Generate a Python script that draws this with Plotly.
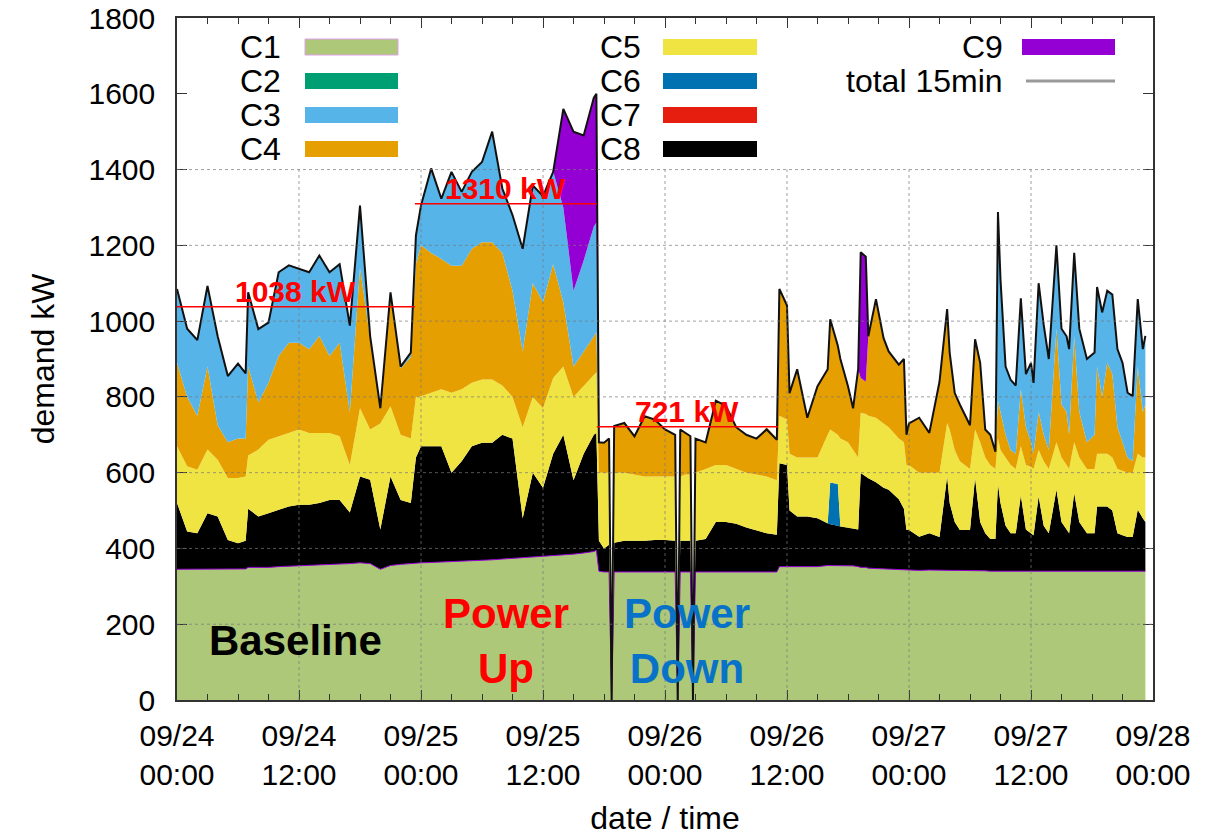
import plotly.graph_objects as go
import pandas as pd

FONT = "Liberation Sans, Arial, Helvetica, sans-serif"

# ---------------- data ----------------
times = [
    "2019-09-24 00:00", "2019-09-24 01:00", "2019-09-24 02:00", "2019-09-24 03:00", "2019-09-24 04:00",
    "2019-09-24 05:00", "2019-09-24 06:00", "2019-09-24 06:45", "2019-09-24 07:00", "2019-09-24 08:00",
    "2019-09-24 09:00", "2019-09-24 10:00", "2019-09-24 11:00", "2019-09-24 12:00", "2019-09-24 13:00",
    "2019-09-24 14:00", "2019-09-24 15:00", "2019-09-24 16:00", "2019-09-24 17:00", "2019-09-24 18:00",
    "2019-09-24 19:00", "2019-09-24 20:00", "2019-09-24 21:00", "2019-09-24 22:00", "2019-09-24 23:00",
    "2019-09-24 23:30", "2019-09-25 00:00", "2019-09-25 01:00", "2019-09-25 02:00", "2019-09-25 03:00",
    "2019-09-25 04:00", "2019-09-25 05:00", "2019-09-25 06:00", "2019-09-25 07:00", "2019-09-25 08:00",
    "2019-09-25 09:00", "2019-09-25 10:00", "2019-09-25 11:00", "2019-09-25 12:00", "2019-09-25 13:00",
    "2019-09-25 14:00", "2019-09-25 15:00", "2019-09-25 16:00", "2019-09-25 17:00", "2019-09-25 17:15",
    "2019-09-25 17:30", "2019-09-25 18:00", "2019-09-25 18:30", "2019-09-25 18:45", "2019-09-25 19:00",
    "2019-09-25 20:00", "2019-09-25 21:00", "2019-09-25 22:00", "2019-09-25 23:00", "2019-09-26 00:00",
    "2019-09-26 01:00", "2019-09-26 01:15", "2019-09-26 01:30", "2019-09-26 02:00", "2019-09-26 02:30",
    "2019-09-26 02:45", "2019-09-26 03:00", "2019-09-26 04:00", "2019-09-26 05:00", "2019-09-26 06:00",
    "2019-09-26 07:00", "2019-09-26 08:00", "2019-09-26 09:00", "2019-09-26 10:00", "2019-09-26 11:00",
    "2019-09-26 11:15", "2019-09-26 12:00", "2019-09-26 12:15", "2019-09-26 13:00", "2019-09-26 14:00",
    "2019-09-26 15:00", "2019-09-26 16:00", "2019-09-26 16:15", "2019-09-26 17:00", "2019-09-26 17:15",
    "2019-09-26 18:00", "2019-09-26 18:30", "2019-09-26 19:00", "2019-09-26 19:15", "2019-09-26 19:45",
    "2019-09-26 20:00", "2019-09-26 20:45", "2019-09-26 21:30", "2019-09-26 22:00", "2019-09-26 23:00",
    "2019-09-26 23:30", "2019-09-26 23:45", "2019-09-27 00:00", "2019-09-27 01:00", "2019-09-27 02:00",
    "2019-09-27 03:00", "2019-09-27 03:45", "2019-09-27 04:00", "2019-09-27 04:30", "2019-09-27 05:00",
    "2019-09-27 06:00", "2019-09-27 06:30", "2019-09-27 07:00", "2019-09-27 07:30", "2019-09-27 08:00",
    "2019-09-27 08:30", "2019-09-27 08:45", "2019-09-27 09:00", "2019-09-27 09:30", "2019-09-27 10:00",
    "2019-09-27 10:30", "2019-09-27 11:00", "2019-09-27 11:30", "2019-09-27 12:00", "2019-09-27 12:15",
    "2019-09-27 12:45", "2019-09-27 13:15", "2019-09-27 13:45", "2019-09-27 14:30", "2019-09-27 15:00",
    "2019-09-27 15:30", "2019-09-27 15:45", "2019-09-27 16:15", "2019-09-27 16:45", "2019-09-27 17:30",
    "2019-09-27 18:15", "2019-09-27 18:30", "2019-09-27 19:00", "2019-09-27 19:30", "2019-09-27 20:00",
    "2019-09-27 20:30", "2019-09-27 21:00", "2019-09-27 21:30", "2019-09-27 22:00", "2019-09-27 22:30",
    "2019-09-27 23:00", "2019-09-27 23:15",
]

c1 = [345, 345, 345, 347, 347, 345, 345, 346, 350, 350,
      350, 352, 353, 354, 355, 356, 357, 358, 360, 362,
      360, 345, 355, 358, 360, 362, 362, 363, 364, 365,
      366, 367, 368, 370, 372, 374, 375, 377, 378, 380,
      383, 385, 388, 392, 395, 340, 338, 338, 0, 338,
      338, 338, 338, 338, 338, 338, 0, 338, 338, 338,
      0, 338, 338, 338, 338, 338, 338, 338, 338, 338,
      352, 352, 352, 352, 352, 352, 355, 355, 356, 356,
      355, 354, 352, 350, 350, 348, 347, 346, 345, 344,
      343, 342, 342, 342, 343, 342, 342, 342, 342, 342,
      342, 342, 342, 341, 340, 340, 340, 340, 340, 340,
      340, 340, 340, 340, 340, 340, 340, 340, 340, 340,
      340, 340, 340, 340, 340, 340, 340, 340, 340, 340,
      340, 340, 340, 340, 340, 340, 340]

c8 = [175, 100, 95, 146, 137, 77, 69, 74, 155, 134,
      143, 150, 158, 161, 160, 164, 171, 170, 135, 228,
      221, 105, 235, 170, 160, 278, 308, 307, 306, 235,
      264, 303, 311, 309, 328, 316, 105, 223, 182, 270,
      317, 195, 262, 308, 310, 80, 62, 72, 0, 77,
      82, 82, 82, 84, 84, 82, 0, 82, 82, 82,
      0, 82, 87, 132, 132, 127, 117, 110, 102, 98,
      273, 268, 148, 132, 132, 128, 111, 109, 104, 102,
      100, 98, 98, 249, 240, 237, 228, 214, 210, 186,
      162, 107, 107, 89, 97, 88, 248, 178, 128, 107,
      107, 244, 128, 99, 85, 85, 230, 180, 120, 100,
      100, 200, 110, 100, 95, 197, 120, 100, 215, 130,
      110, 100, 206, 130, 100, 100, 171, 171, 171, 160,
      100, 95, 90, 90, 162, 140, 130]

c6 = [0, 0, 0, 0, 0, 0, 0, 0, 0, 0,
      0, 0, 0, 0, 0, 0, 0, 0, 0, 0,
      0, 0, 0, 0, 0, 0, 0, 0, 0, 0,
      0, 0, 0, 0, 0, 0, 0, 0, 0, 0,
      0, 0, 0, 0, 0, 0, 0, 0, 0, 0,
      0, 0, 0, 0, 0, 0, 0, 0, 0, 0,
      0, 0, 0, 0, 0, 0, 0, 0, 0, 0,
      0, 0, 0, 0, 0, 0, 0, 110, 110, 0,
      0, 0, 0, 0, 0, 0, 0, 0, 0, 0,
      0, 0, 0, 0, 0, 0, 0, 0, 0, 0,
      0, 0, 0, 0, 0, 0, 0, 0, 0, 0,
      0, 0, 0, 0, 0, 0, 0, 0, 0, 0,
      0, 0, 0, 0, 0, 0, 0, 0, 0, 0,
      0, 0, 0, 0, 0, 0, 0]

c5 = [150, 172, 168, 168, 150, 164, 172, 170, 140, 177,
      194, 194, 194, 199, 190, 185, 177, 168, 125, 180,
      133, 280, 185, 172, 170, 160, 132, 141, 150, 211,
      190, 167, 167, 167, 130, 110, 240, 200, 210, 200,
      180, 220, 180, 160, 160, 180, 200, 190, 0, 185,
      180, 175, 170, 168, 168, 170, 0, 170, 175, 175,
      0, 180, 185, 150, 150, 145, 145, 147, 150, 144,
      125, 120, 150, 156, 156, 160, 234, 140, 130, 232,
      225, 208, 190, 159, 165, 165, 170, 170, 165, 160,
      175, 171, 171, 169, 160, 170, 141, 194, 190, 181,
      161, 128, 210, 200, 195, 185, 120, 140, 180, 180,
      170, 130, 170, 175, 175, 123, 170, 170, 125, 170,
      170, 170, 134, 170, 170, 170, 139, 139, 139, 140,
      170, 170, 170, 170, 148, 160, 170]

c4 = [220, 183, 142, 219, 91, 94, 104, 100, 235, 124,
      150, 212, 238, 229, 221, 256, 203, 247, 140, 370,
      241, 36, 295, 175, 215, 350, 398, 369, 344, 335,
      326, 354, 362, 362, 350, 280, 200, 300, 280, 300,
      170, 80, 90, 100, 105, 80, 80, 90, 0, 120,
      130, 105, 160, 150, 125, 110, 0, 120, 110, 101,
      0, 90, 70, 170, 156, 110, 100, 95, 130, 110,
      335, 300, 160, 230, 105, 188, 173, 291, 235, 210,
      148, 110, 233, 92, 85, 210, 313, 225, 200, 195,
      220, 80, 110, 145, 105, 240, 301, 203, 150, 150,
      115, 238, 210, 74, 80, 45, 100, 100, 60, 40,
      40, 150, 100, 65, 40, 100, 70, 50, 300, 140,
      140, 90, 280, 120, 70, 90, 230, 150, 240, 220,
      110, 75, 40, 30, 230, 120, 140]

c3 = [195, 180, 205, 215, 235, 178, 200, 175, 195, 195,
      163, 222, 205, 197, 204, 214, 222, 212, 230, 170,
      10, 6, 6, 7, 13, 76, 105, 223, 161, 249,
      194, 204, 212, 292, 170, 200, 270, 255, 280, 245,
      250, 200, 240, 290, 290, 0, 0, 0, 0, 0,
      0, 0, 0, 0, 0, 0, 0, 0, 0, 0,
      0, 0, 0, 0, 0, 0, 0, 0, 0, 0,
      0, 0, 0, 0, 0, 0, 0, 0, 0, 0,
      0, 0, 0, 0, 0, 0, 0, 0, 0, 0,
      0, 0, 0, 0, 0, 0, 0, 0, 0, 0,
      0, 0, 0, 0, 0, 0, 490, 345, 180, 185,
      180, 240, 140, 210, 187, 340, 290, 240, 220, 200,
      200, 226, 220, 220, 220, 217, 210, 223, 190, 210,
      206, 210, 171, 172, 178, 166, 181]

c9 = [0, 0, 0, 0, 0, 0, 0, 0, 0, 0,
      0, 0, 0, 0, 0, 0, 0, 0, 0, 0,
      0, 0, 0, 0, 0, 0, 0, 0, 0, 0,
      0, 0, 0, 0, 0, 0, 0, 0, 0, 0,
      260, 420, 330, 340, 340, 0, 0, 0, 0, 0,
      0, 0, 0, 0, 0, 0, 0, 0, 0, 0,
      0, 0, 0, 0, 0, 0, 0, 0, 0, 0,
      0, 0, 0, 0, 0, 0, 0, 0, 0, 0,
      0, 0, 0, 332, 330, 0, 0, 0, 0, 0,
      0, 0, 0, 0, 0, 0, 0, 0, 0, 0,
      0, 0, 0, 0, 0, 0, 0, 0, 0, 0,
      0, 0, 0, 0, 0, 0, 0, 0, 0, 0,
      0, 0, 0, 0, 0, 0, 0, 0, 0, 0,
      0, 0, 0, 0, 0, 0, 0]

total_15min = [1085, 980, 950, 1093, 960, 855, 888, 862, 1076, 979,
               996, 1129, 1147, 1138, 1129, 1173, 1129, 1150, 988, 1305,
               960, 770, 1076, 880, 917, 1226, 1305, 1403, 1323, 1394,
               1341, 1394, 1420, 1500, 1350, 1280, 1191, 1358, 1330, 1394,
               1560, 1500, 1490, 1590, 1600, 680, 679, 690, 0, 723,
               731, 696, 749, 740, 714, 700, 0, 714, 705, 696,
               0, 690, 680, 790, 776, 720, 700, 690, 714, 687,
               1085, 1041, 810, 873, 745, 828, 873, 1005, 935, 900,
               828, 770, 873, 1182, 1170, 960, 1058, 955, 920, 885,
               900, 700, 730, 745, 705, 840, 1032, 917, 810, 780,
               725, 952, 890, 714, 700, 655, 1288, 1110, 880, 845,
               830, 1060, 860, 890, 837, 1100, 990, 900, 1200, 980,
               960, 926, 1180, 980, 900, 917, 1090, 1023, 1080, 1070,
               926, 890, 811, 802, 1058, 926, 961]

period_start = ["2019-09-24 00:00", "2019-09-24 23:24", "2019-09-25 17:18"]
period_end = ["2019-09-24 23:24", "2019-09-25 17:18", "2019-09-26 11:06"]
period_avg = [1038, 1310, 721]
period_name = ["Baseline", "Power<br>Up", "Power<br>Down"]

x_tick_vals = ["2019-09-24 00:00", "2019-09-24 12:00", "2019-09-25 00:00", "2019-09-25 12:00",
               "2019-09-26 00:00", "2019-09-26 12:00", "2019-09-27 00:00", "2019-09-27 12:00",
               "2019-09-28 00:00"]
x_tick_text = ["09/24<br>00:00", "09/24<br>12:00", "09/25<br>00:00", "09/25<br>12:00",
               "09/26<br>00:00", "09/26<br>12:00", "09/27<br>00:00", "09/27<br>12:00",
               "09/28<br>00:00"]
y_tick_vals = [0, 200, 400, 600, 800, 1000, 1200, 1400, 1600, 1800]

# ---------------- styling ----------------
COL = {"C1": "#ADC878", "C2": "#009E73", "C3": "#56B4E9", "C4": "#E69F00", "C5": "#F0E442",
       "C6": "#0072B2", "C7": "#E51E10", "C8": "#000000", "C9": "#9400D3"}

W, H = 1216, 836
ML, MR, MT, MB = 177, 63, 18, 136
PW, PH = W - ML - MR, H - MT - MB


def px_x(px):
    return (px - ML) / PW


def px_y(py):
    return (H - MB - py) / PH


fig = go.Figure()

stack = [("C1", c1), ("C8", c8), ("C6", c6), ("C5", c5), ("C4", c4), ("C3", c3), ("C9", c9)]
for name, vals in stack:
    edge = dict(width=1, color="#9400D3") if name == "C1" else dict(width=0, color=COL[name])
    fig.add_trace(go.Scatter(x=times, y=vals, name=name, mode="lines", stackgroup="demand",
                             line=edge, fillcolor=COL[name], showlegend=False,
                             hoverinfo="x+y+name"))

fig.add_trace(go.Scatter(x=times, y=total_15min, name="total 15min", mode="lines",
                         line=dict(color="#111111", width=2), showlegend=False))

annotations = []
shapes = []

# gridlines (dotted, above the fills; kept out of the key region like the original)
GRID = "rgba(120,120,120,0.7)"
for yv in y_tick_vals[1:-2]:
    shapes.append(dict(type="line", xref="paper", yref="y", x0=0, x1=1, y0=yv, y1=yv,
                       line=dict(color=GRID, width=1, dash="dot"), layer="above"))
for xv in x_tick_vals[1:-1]:
    shapes.append(dict(type="line", xref="x", yref="y", x0=xv, x1=xv, y0=0, y1=y_tick_vals[-3],
                       line=dict(color=GRID, width=1, dash="dot"), layer="above"))

# period averages and labels
for s, e, a, nm, col in zip(period_start, period_end, period_avg, period_name,
                            ["#000000", "#FF0000", "#0872C8"]):
    fig.add_trace(go.Scatter(x=[s, e], y=[a, a], mode="lines", showlegend=False,
                             line=dict(color="#FF0000", width=1.5), hoverinfo="skip"))
    mid = pd.Timestamp(s) + (pd.Timestamp(e) - pd.Timestamp(s)) / 2
    annotations.append(dict(x=mid, y=a, xref="x", yref="y", text=f"<b>{a} kW</b>",
                            showarrow=False, yanchor="bottom", yshift=-3,
                            font=dict(family=FONT, size=30, color="#FF0000")))
    annotations.append(dict(x=mid, y=156, xref="x", yref="y", text=f"<b>{nm}</b>",
                            showarrow=False, yanchor="middle",
                            font=dict(family=FONT, size=42, color=col)))

# key (label on the left, swatch on the right, gnuplot style)
row_y = [47, 81, 115, 149]
key_cols = [
    (283, 305, 398, ["C1", "C2", "C3", "C4"]),
    (643, 663, 757, ["C5", "C6", "C7", "C8"]),
    (1005, 1022, 1115, ["C9"]),
]
for txt_r, sx0, sx1, names in key_cols:
    for i, nm in enumerate(names):
        yy = row_y[i]
        annotations.append(dict(x=px_x(txt_r), y=px_y(yy), xref="paper", yref="paper", text=nm,
                                showarrow=False, xanchor="right", yanchor="middle",
                                font=dict(family=FONT, size=32, color="#000000")))
        shapes.append(dict(type="rect", xref="paper", yref="paper",
                           x0=px_x(sx0), x1=px_x(sx1), y0=px_y(yy + 8), y1=px_y(yy - 8),
                           fillcolor=COL[nm],
                           line=dict(width=1 if nm == "C1" else 0,
                                     color="#E0A0E8" if nm == "C1" else COL[nm]),
                           layer="above"))
annotations.append(dict(x=px_x(1005), y=px_y(row_y[1]), xref="paper", yref="paper",
                        text="total 15min", showarrow=False, xanchor="right", yanchor="middle",
                        font=dict(family=FONT, size=32, color="#000000")))
shapes.append(dict(type="line", xref="paper", yref="paper", x0=px_x(1026), x1=px_x(1115),
                   y0=px_y(row_y[1]), y1=px_y(row_y[1]),
                   line=dict(color="#999999", width=3), layer="above"))

fig.update_layout(
    width=W, height=H,
    margin=dict(l=ML, r=MR, t=MT, b=MB),
    paper_bgcolor="white", plot_bgcolor="white",
    font=dict(family=FONT, size=30, color="#000000"),
    showlegend=False,
    annotations=annotations,
    shapes=shapes,
    xaxis=dict(
        type="date", automargin=False,
        range=[x_tick_vals[0], x_tick_vals[-1]],
        tickmode="array", tickvals=x_tick_vals, ticktext=x_tick_text,
        ticks="inside", ticklen=10, tickwidth=1, tickcolor="#333333",
        minor=dict(tick0=x_tick_vals[0], dtick=3 * 3600 * 1000, ticks="inside", ticklen=6,
                   tickcolor="#333333", showgrid=False),
        showgrid=False, zeroline=False,
        showline=True, linecolor="#333333", linewidth=1.5, mirror="ticks",
        tickfont=dict(family=FONT, size=30),
        ticklabelstandoff=8,
        title=dict(text="date / time", font=dict(family=FONT, size=32), standoff=26),
    ),
    yaxis=dict(
        range=[0, 1800], automargin=False,
        tickmode="array", tickvals=y_tick_vals,
        ticks="inside", ticklen=10, tickwidth=1, tickcolor="#333333",
        showgrid=False, zeroline=False,
        showline=True, linecolor="#333333", linewidth=1.5, mirror="ticks",
        tickfont=dict(family=FONT, size=30),
        ticklabelstandoff=14,
        title=dict(text="demand kW", font=dict(family=FONT, size=32), standoff=24),
    ),
)

fig.write_html("out.html")
